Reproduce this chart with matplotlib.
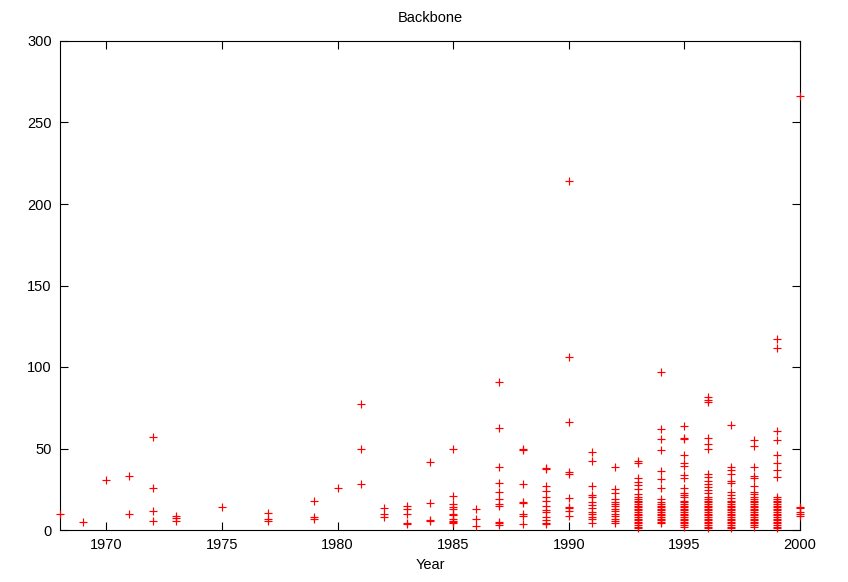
import matplotlib
matplotlib.use('Agg')
from matplotlib import pyplot as plt

# values per year (many years have several entries)
y1968 = [10]
y1969 = [5]
y1970 = [30.5]
y1971 = [33, 10]
y1972 = [57, 26, 11.5, 5.3]
y1973 = [8.6, 7.2, 5.7]
y1975 = [14]
y1977 = [10.6, 6.5, 5.5]
y1979 = [17.6, 7.8, 7]
y1980 = [26]
y1981 = [77, 50, 28]
y1982 = [13.5, 10, 7.8]
y1983 = [15, 13, 10, 4.3, 3.6]
y1984 = [42, 16.4, 6, 5.3]
y1985 = [50, 21, 16, 14.3, 13, 10, 9, 7, 5.7, 4.7, 4]
y1986 = [12.9, 6.7, 2.5]
y1987 = [90.6, 62.8, 38.8, 29, 23.5, 18.8, 15.7, 15, 5, 4, 3]
y1988 = [49.5, 48.9, 28, 17.4, 16.4, 9.8, 8.8, 3.7]
y1989 = [37.8, 37.4, 27, 24, 20.5, 17.5, 14.5, 12, 11, 8, 6, 4.5, 3.5]
y1990 = [214, 106, 66, 35.4, 34.6, 19.4, 14.3, 13.5, 11.5, 8.6]
y1991 = [48, 42.3, 27, 21.5, 20.4, 17.4, 15.3, 13.3, 11.3, 9.8, 8.2, 6.6, 4.2]
y1992 = [38.5, 25, 23, 18.8, 17.4, 16, 14.5, 12.8, 11.5, 10, 8.5, 6.8, 5.3, 4.3]
y1993 = [42.3, 40.9, 31.7, 29.7, 27.6, 25, 22, 20.4, 19, 18, 17, 16, 15, 14,
         13, 12, 11, 10, 9, 8, 7, 6, 5, 4, 3, 2, 1]
y1994 = [97, 61.8, 55.6, 49, 36.4, 31.5, 25.8, 19.3, 17, 16, 15, 14, 13, 12,
         11, 10, 9, 8, 7, 6, 5, 4.5]
y1995 = [63.8, 56.2, 55.8, 46, 41, 39.3, 33.8, 32.2, 25.6, 23, 21.5, 20.1, 18,
         17, 16, 15, 14, 13, 12, 11, 10, 9, 8, 7, 6, 5, 4, 3, 2]
y1996 = [81.4, 79.8, 78.8, 56.2, 52.8, 50, 34.4, 32.3, 30.3, 28.2, 26.2, 24.5,
         22.5, 20.4, 19, 18, 17, 16, 15, 14, 13, 12, 11, 10, 9, 8, 7, 6, 5, 4,
         3, 2, 1]
y1997 = [64.4, 38.6, 37, 34.6, 30.3, 29, 23.5, 21.5, 19.4, 18, 17, 16, 15, 14,
         13, 12, 11, 10, 9, 8, 7, 6, 5, 4, 3, 2, 1]
y1998 = [55.2, 51.5, 38.6, 33.3, 31.9, 26.8, 23.1, 22, 20, 19, 18, 17, 16, 15,
         14, 13, 12, 11, 10, 9, 8, 7, 6, 5, 4, 3, 2]
y1999 = [117.2, 111.7, 61, 55.2, 46, 41, 37, 32.5, 20.4, 19, 18, 17, 16, 15,
         14, 13, 12, 11, 10, 9, 8, 7, 6, 5, 4, 3, 2, 1]
y2000 = [266, 14.3, 13.3, 11.3, 10, 8.6]

per_year = {
    1968: y1968, 1969: y1969, 1970: y1970, 1971: y1971, 1972: y1972,
    1973: y1973, 1975: y1975, 1977: y1977, 1979: y1979, 1980: y1980,
    1981: y1981, 1982: y1982, 1983: y1983, 1984: y1984, 1985: y1985,
    1986: y1986, 1987: y1987, 1988: y1988, 1989: y1989, 1990: y1990,
    1991: y1991, 1992: y1992, 1993: y1993, 1994: y1994, 1995: y1995,
    1996: y1996, 1997: y1997, 1998: y1998, 1999: y1999, 2000: y2000,
}

years = []
values = []
for yr, vals in per_year.items():
    years += [yr] * len(vals)
    values += vals

plt.rcParams['font.family'] = ['Liberation Sans', 'DejaVu Sans']

fig = plt.figure(figsize=(8.48, 5.82), dpi=100)
ax = fig.add_axes([60 / 848, 52 / 582, 740 / 848, 489 / 582])
ax.scatter(years, values, marker='+', s=36, linewidths=0.85, color='#ff0000',
           clip_on=False, zorder=3)

ax.set_xlim(1968, 2000)
ax.set_ylim(0, 300)
ax.set_xticks(range(1970, 2001, 5))
ax.set_yticks(range(0, 301, 50))
ax.tick_params(direction='in', length=6, width=0.8, top=True, right=True,
               labelsize=10.5, pad=6)
for sp in ax.spines.values():
    sp.set_linewidth(0.8)

ax.set_title('Backbone', fontsize=10.5, pad=14)
ax.set_xlabel('Year', fontsize=10.5, labelpad=4)

fig.savefig('out.png', dpi=100)
